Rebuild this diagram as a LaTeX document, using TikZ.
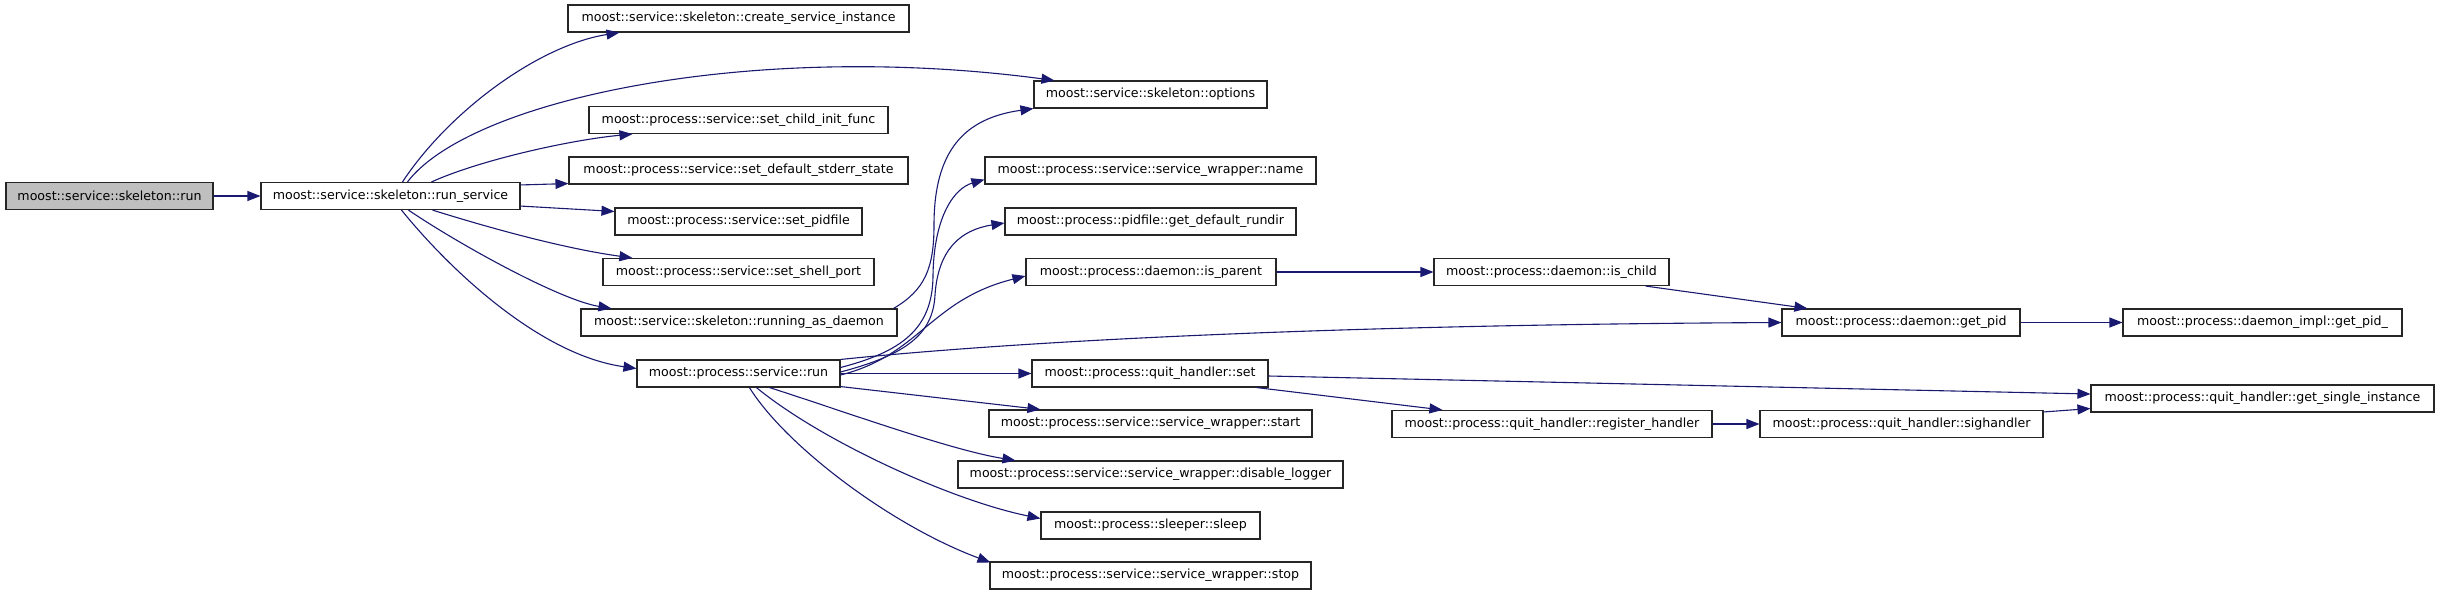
\documentclass[tikz,border=0pt]{standalone}
\usepackage{fontspec}
\setmainfont{DejaVu Sans}
\usetikzlibrary{arrows.meta,calc}
\definecolor{edgecol}{RGB}{25,25,112}
\definecolor{rootfill}{RGB}{191,191,191}
\tikzset{
  fn/.style={draw=black!85, line width=1.1pt, fill=white, inner sep=0pt, minimum height=27pt,
    font=\fontsize{12.6}{15}\selectfont, anchor=center},
  root/.style={fn, fill=rootfill},
  call/.style={draw=edgecol, line width=1.1pt, -{Triangle[length=13pt,width=10pt]}},
}
\begin{document}
\begin{tikzpicture}[x=1pt,y=-1pt]
\useasboundingbox (0,0) rectangle (2440,595);
% nodes
\node[root, minimum width=207pt] (A) at (109.5,196) {moost::service::skeleton::run};
\node[fn, minimum width=259pt] (B) at (390.5,196) {moost::service::skeleton::run\_service};
\node[fn, minimum width=341pt] (C) at (738.5,18.5) {moost::service::skeleton::create\_service\_instance};
\node[fn, minimum width=233pt] (D) at (1150.5,94.5) {moost::service::skeleton::options};
\node[fn, minimum width=299pt] (E) at (738.5,120) {moost::process::service::set\_child\_init\_func};
\node[fn, minimum width=339pt] (F) at (738.5,170.5) {moost::process::service::set\_default\_stderr\_state};
\node[fn, minimum width=331pt] (G) at (1150.5,170.5) {moost::process::service::service\_wrapper::name};
\node[fn, minimum width=247pt] (H) at (738.5,221.5) {moost::process::service::set\_pidfile};
\node[fn, minimum width=291pt] (I) at (1150.5,221.5) {moost::process::pidfile::get\_default\_rundir};
\node[fn, minimum width=271pt] (J) at (738.5,272) {moost::process::service::set\_shell\_port};
\node[fn, minimum width=250pt] (K) at (1151,272) {moost::process::daemon::is\_parent};
\node[fn, minimum width=235pt] (L) at (1551.5,272) {moost::process::daemon::is\_child};
\node[fn, minimum width=316pt] (M) at (739,322.5) {moost::service::skeleton::running\_as\_daemon};
\node[fn, minimum width=238pt] (N) at (1901,322.5) {moost::process::daemon::get\_pid};
\node[fn, minimum width=279pt] (O) at (2262.5,322.5) {moost::process::daemon\_impl::get\_pid\_};
\node[fn, minimum width=203pt] (P) at (738.5,373.5) {moost::process::service::run};
\node[fn, minimum width=236pt] (Q) at (1150,373.5) {moost::process::quit\_handler::set};
\node[fn, minimum width=343pt] (R) at (2262.5,398.5) {moost::process::quit\_handler::get\_single\_instance};
\node[fn, minimum width=323pt] (S) at (1150.5,423.5) {moost::process::service::service\_wrapper::start};
\node[fn, minimum width=320pt] (T) at (1552,424) {moost::process::quit\_handler::register\_handler};
\node[fn, minimum width=283pt] (U) at (1901.5,424) {moost::process::quit\_handler::sighandler};
\node[fn, minimum width=385pt] (V) at (1150.5,474.5) {moost::process::service::service\_wrapper::disable\_logger};
\node[fn, minimum width=219pt] (W) at (1150.5,525.5) {moost::process::sleeper::sleep};
\node[fn, minimum width=321pt] (X) at (1150.5,575.5) {moost::process::service::service\_wrapper::stop};
% edges
\draw[call] (A) -- (B);
\draw[call] ($(B.north west)+(142,0)$) .. controls (450,110) and (540,45) .. ($(C.south west)+(52,0)$);
\draw[call] ($(B.north west)+(147,0)$) .. controls (470,100) and (750,40) .. ($(D.north west)+(21,0)$);
\draw[call] ($(B.north west)+(171,0)$) .. controls (480,160) and (570,140) .. ($(E.south west)+(44,0)$);
\draw[call] ($(B.north east)+(0,3)$) -- ($(F.south west)+(0,-1)$);
\draw[call] ($(B.south east)+(0,-4)$) -- ($(H.north west)+(0,4)$);
\draw[call] ($(B.south west)+(172,0)$) .. controls (480,225) and (560,248) .. ($(J.north west)+(30,0)$);
\draw[call] ($(B.south west)+(148,0)$) .. controls (460,245) and (560,300) .. ($(M.north west)+(31,0)$);
\draw[call] ($(B.south west)+(141,0)$) .. controls (450,270) and (540,355) .. ($(P.west)+(0,-5)$);
\draw[call] ($(M.north east)+(-4,0)$) .. controls (925,290) and (934,268) .. (934,225) .. controls (934,150) and (965,118) .. (D.south west);
\draw[call] ($(P.east)+(0,-6)$) .. controls (900,352) and (933,330) .. (933,275) .. controls (934,215) and (955,188) .. ($(G.south west)+(0,-5)$);
\draw[call] ($(P.east)+(0,-1.5)$) .. controls (905,355) and (933,335) .. (935,295) .. controls (938,250) and (960,230) .. ($(I.west)+(0,1.5)$);
\draw[call] ($(P.east)+(0,1.5)$) .. controls (920,355) and (930,300) .. ($(K.west)+(0,4)$);
\draw[call] (P.north east) .. controls (1000,343) and (1300,325) .. (N.west);
\draw[call] (P) -- (Q);
\draw[call] ($(P.south east)+(0,-1)$) -- ($(S.north west)+(52,0)$);
\draw[call] ($(P.south west)+(133,0)$) .. controls (840,410) and (950,450) .. ($(V.north west)+(58,0)$);
\draw[call] ($(P.south west)+(120,0)$) .. controls (820,440) and (950,500) .. ($(W.west)+(0,-7)$);
\draw[call] ($(P.south west)+(113,0)$) .. controls (785,445) and (890,525) .. ($(X.north west)+(1,1)$);
\draw[call] (K) -- (L);
\draw[call] ($(L.south east)+(-24,0)$) -- ($(N.north west)+(26,0)$);
\draw[call] (N) -- (O);
\draw[call] ($(Q.east)+(0,2.5)$) -- ($(R.west)+(0,-4.5)$);
\draw[call] ($(Q.south east)+(-12,0)$) -- ($(T.north west)+(51,0)$);
\draw[call] (T) -- (U);
\draw[call] ($(U.north east)+(0,2)$) -- ($(R.south west)+(0,-4)$);
\end{tikzpicture}
\end{document}
